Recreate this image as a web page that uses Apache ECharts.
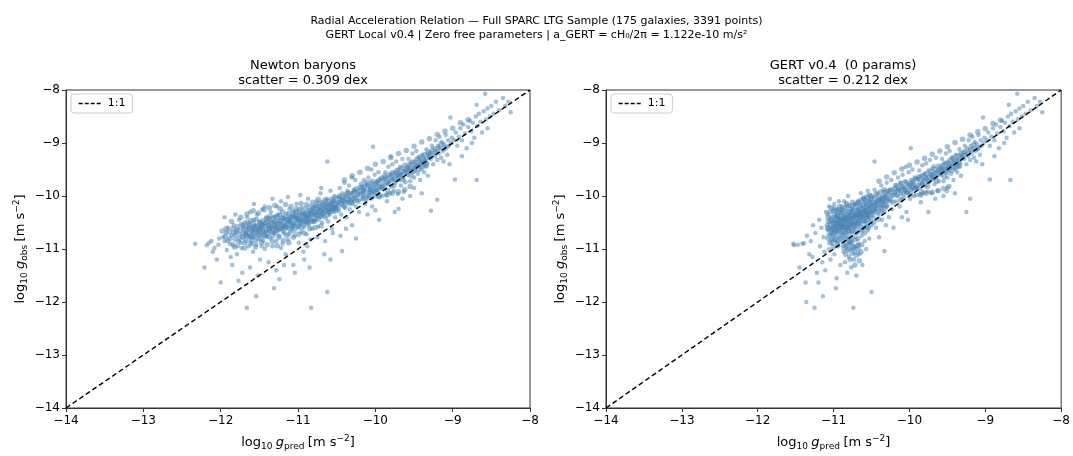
<!DOCTYPE html>
<html><head><meta charset="utf-8">
<script src="https://cdn.jsdelivr.net/npm/echarts@6/dist/echarts.min.js"></script>
<style>html,body{margin:0;padding:0;background:#fff}#c{width:1073px;height:456px}</style>
</head><body><div id="c"></div>
<script>
// Newton baryons panel: [log10 gbar, log10 gobs]
const newtonPts = [
[-12.33,-10.90],[-12.21,-11.35],[-12.18,-10.93],[-12.12,-10.85],[-12.08,-10.98],[-12.05,-11.20],[-12.02,-10.80],[-12.00,-11.63],[-12.03,-10.92],[-12.10,-11.05],[-12.15,-10.88],
[-11.97,-10.78],[-11.95,-10.85],[-11.93,-10.70],[-11.92,-11.02],[-11.90,-10.60],[-11.88,-10.90],[-11.86,-10.75],[-11.85,-11.30],[-11.83,-10.55],[-11.82,-10.82],[-11.80,-10.68],[-11.79,-11.10],[-11.78,-10.95],[-11.76,-10.45],[-11.75,-10.72],[-11.74,-10.88],[-11.72,-11.45],[-11.71,-10.62],[-11.70,-10.80],[-11.95,-10.40],[-11.87,-11.15],[-11.81,-10.35],[-11.77,-11.60],[-11.73,-10.98],
[-11.69,-10.50],[-11.68,-10.70],[-11.67,-10.85],[-11.66,-12.11],[-11.66,-10.40],[-11.65,-10.62],[-11.64,-10.95],[-11.63,-10.75],[-11.62,-10.30],[-11.61,-10.58],[-11.60,-10.88],[-11.59,-10.68],[-11.58,-11.05],[-11.57,-10.45],[-11.56,-10.78],[-11.55,-10.55],[-11.54,-11.89],[-11.54,-10.92],[-11.53,-10.35],[-11.52,-10.65],[-11.51,-10.82],[-11.50,-10.48],[-11.49,-11.20],[-11.48,-10.72],[-11.47,-10.60],[-11.46,-10.25],[-11.45,-10.85],[-11.44,-10.52],[-11.43,-11.00],[-11.42,-10.68],[-11.41,-10.40],[-11.40,-10.77],[-11.62,-11.35],[-11.57,-10.15],[-11.52,-11.50],[-11.47,-10.95],[-11.43,-10.20],[-11.58,-10.62],[-11.50,-10.58],[-11.45,-10.66],
[-11.39,-10.55],[-11.38,-10.65],[-11.37,-10.42],[-11.36,-10.80],[-11.35,-10.30],[-11.34,-10.60],[-11.33,-10.95],[-11.32,-10.50],[-11.31,-11.74],[-11.31,-10.70],[-11.30,-10.38],[-11.29,-10.58],[-11.28,-10.85],[-11.27,-10.20],[-11.26,-10.66],[-11.25,-10.45],[-11.24,-11.57],[-11.24,-10.75],[-11.23,-10.52],[-11.22,-10.10],[-11.21,-10.62],[-11.20,-10.90],[-11.19,-10.40],[-11.18,-10.70],[-11.17,-10.55],[-11.16,-11.10],[-11.15,-10.33],[-11.14,-10.60],[-11.13,-10.82],[-11.12,-10.48],[-11.11,-10.25],[-11.10,-10.68],[-11.38,-11.25],[-11.33,-10.05],[-11.28,-11.40],[-11.22,-10.98],[-11.18,-11.30],[-11.13,-10.02],[-11.36,-10.48],[-11.30,-10.62],[-11.26,-10.35],[-11.20,-10.56],[-11.16,-10.44],[-11.12,-10.72],
[-11.09,-10.50],[-11.08,-10.38],[-11.07,-10.62],[-11.06,-11.30],[-11.06,-10.28],[-11.05,-10.55],[-11.04,-10.75],[-11.03,-10.42],[-11.02,-10.15],[-11.01,-10.60],[-11.00,-10.48],[-10.99,-10.88],[-10.98,-10.35],[-10.97,-10.52],[-10.96,-10.68],[-10.95,-10.22],[-10.94,-10.45],[-10.93,-11.05],[-10.92,-10.58],[-10.91,-10.32],[-10.90,-10.50],[-10.89,-10.72],[-10.88,-10.40],[-10.87,-10.05],[-10.86,-10.55],[-10.85,-10.30],[-10.84,-10.82],[-10.83,-12.11],[-10.83,-10.45],[-10.82,-10.62],[-10.81,-10.25],[-10.80,-10.48],[-11.04,-11.45],[-10.97,-9.98],[-10.92,-11.20],[-10.88,-10.95],[-10.85,-11.35],[-11.05,-10.40],[-10.98,-10.56],[-10.90,-10.38],[-10.86,-10.46],
[-10.79,-10.35],[-10.78,-10.20],[-10.77,-10.45],[-10.76,-10.10],[-10.75,-10.30],[-10.74,-10.58],[-10.73,-10.25],[-10.72,-10.40],[-10.71,-9.95],[-10.70,-10.32],[-10.69,-10.50],[-10.68,-10.15],[-10.67,-10.38],[-10.66,-11.10],[-10.65,-10.22],[-10.64,-10.42],[-10.63,-10.05],[-10.62,-9.35],[-10.62,-11.81],[-10.62,-10.28],[-10.61,-10.48],[-10.60,-10.18],[-10.59,-10.35],[-10.58,-9.90],[-10.57,-10.25],[-10.56,-10.62],[-10.55,-10.12],[-10.54,-10.30],[-10.53,-10.00],[-10.52,-10.40],[-10.51,-10.20],[-10.75,-10.78],[-10.70,-9.85],[-10.65,-10.85],[-10.58,-11.20],[-10.55,-10.70],[-10.68,-10.28],[-10.60,-10.26],[-10.52,-10.22],
[-10.49,-10.15],[-10.48,-10.02],[-10.47,-10.28],[-10.46,-9.85],[-10.45,-10.10],[-10.44,-10.35],[-10.43,-11.04],[-10.43,-9.95],[-10.42,-10.18],[-10.41,-10.05],[-10.40,-9.75],[-10.39,-10.22],[-10.38,-10.00],[-10.37,-10.40],[-10.36,-9.90],[-10.35,-10.12],[-10.34,-9.80],[-10.33,-10.25],[-10.32,-10.08],[-10.31,-9.95],[-10.30,-10.55],[-10.29,-10.15],[-10.28,-9.88],[-10.27,-10.02],[-10.26,-9.70],[-10.25,-10.20],[-10.24,-9.92],[-10.23,-10.08],[-10.22,-9.98],[-10.21,-10.30],[-10.45,-10.75],[-10.38,-10.62],[-10.30,-9.65],[-10.25,-10.80],[-10.46,-10.05],[-10.40,-10.12],[-10.34,-10.03],[-10.27,-10.10],
[-10.19,-9.95],[-10.18,-10.05],[-10.17,-9.82],[-10.16,-10.00],[-10.15,-9.70],[-10.14,-9.90],[-10.13,-10.15],[-10.12,-9.78],[-10.11,-9.98],[-10.10,-10.02],[-10.09,-9.65],[-10.08,-9.88],[-10.07,-10.00],[-10.06,-9.75],[-10.05,-9.93],[-10.04,-10.20],[-10.03,-9.07],[-10.03,-9.80],[-10.02,-9.96],[-10.01,-9.60],[-10.00,-9.85],[-10.00,-10.27],[-9.99,-10.01],[-9.98,-9.72],[-9.97,-9.90],[-9.96,-9.55],[-9.95,-9.82],[-9.94,-10.00],[-9.93,-9.68],[-9.92,-9.86],[-9.91,-9.99],[-10.10,-10.35],[-9.95,-10.45],[-10.05,-9.50],[-10.15,-9.92],[-10.08,-9.94],[-9.98,-9.88],
[-9.89,-9.70],[-9.88,-9.85],[-9.87,-9.55],[-9.86,-9.98],[-9.85,-9.65],[-9.84,-9.78],[-9.83,-9.45],[-9.82,-9.72],[-9.81,-9.95],[-9.80,-9.60],[-9.79,-9.82],[-9.78,-9.40],[-9.77,-9.68],[-9.76,-9.90],[-9.75,-9.55],[-9.74,-9.75],[-9.73,-9.35],[-9.72,-9.62],[-9.71,-9.96],[-9.70,-9.50],[-9.70,-10.24],[-9.69,-9.70],[-9.68,-9.45],[-9.67,-9.80],[-9.66,-9.58],[-9.65,-9.30],[-9.64,-9.66],[-9.63,-9.92],[-9.62,-9.52],[-9.61,-9.74],[-9.85,-10.10],[-9.75,-10.30],[-9.65,-10.05],[-9.80,-9.25],
[-9.59,-9.45],[-9.58,-9.60],[-9.57,-9.30],[-9.56,-9.50],[-9.55,-9.72],[-9.54,-9.38],[-9.53,-9.55],[-9.52,-9.20],[-9.51,-9.48],[-9.50,-9.65],[-9.49,-9.35],[-9.48,-9.52],[-9.47,-9.15],[-9.46,-9.42],[-9.45,-9.58],[-9.44,-9.28],[-9.43,-9.45],[-9.42,-9.70],[-9.41,-9.35],[-9.40,-9.50],[-9.39,-9.22],[-9.38,-9.40],[-9.37,-9.55],[-9.36,-9.30],[-9.35,-9.45],[-9.34,-9.12],[-9.33,-9.38],[-9.32,-9.62],[-9.31,-9.28],[-9.50,-9.85],[-9.40,-9.95],[-9.55,-10.00],
[-9.29,-9.18],[-9.28,-10.28],[-9.28,-9.30],[-9.27,-9.05],[-9.26,-9.22],[-9.25,-9.40],[-9.24,-9.10],[-9.23,-9.25],[-9.22,-8.95],[-9.21,-9.15],[-9.20,-10.07],[-9.20,-9.32],[-9.19,-9.05],[-9.18,-9.20],[-9.17,-8.88],[-9.16,-9.10],[-9.15,-9.28],[-9.14,-8.98],[-9.13,-9.15],[-9.12,-9.35],[-9.11,-9.02],[-9.10,-9.12],[-9.09,-8.85],[-9.08,-9.08],[-9.07,-9.22],[-9.06,-8.95],[-9.05,-9.05],[-9.04,-9.40],[-9.03,-8.52],[-9.02,-9.00],[-9.01,-8.90],
[-8.98,-8.95],[-8.97,-9.69],[-8.96,-8.80],[-8.94,-9.05],[-8.92,-8.88],[-8.90,-8.72],[-8.88,-8.95],[-8.86,-8.65],[-8.84,-8.82],[-8.82,-9.10],[-8.80,-8.70],[-8.78,-8.58],[-8.76,-8.78],[-8.74,-8.62],[-8.72,-8.90],[-8.70,-8.50],[-8.69,-8.28],[-8.69,-9.70],[-8.68,-8.68],[-8.66,-8.45],[-8.64,-8.60],[-8.62,-8.80],[-8.60,-8.40],[-8.58,-8.07],[-8.57,-8.55],[-8.55,-8.35],[-8.52,-8.50],[-8.50,-8.30],[-8.47,-8.45],[-8.44,-8.22],[-8.40,-8.38],[-8.35,-8.15],[-8.32,-8.30],[-8.28,-8.22],[-8.25,-8.42],[-8.88,-9.25],[-8.75,-9.00],[-8.55,-8.72]
];
// Newton panel: dense core and band/track points
const newtonDense = [
[-11.98,-10.66],[-11.94,-10.76],[-11.91,-10.84],[-11.89,-10.68],[-11.84,-10.62],[-11.84,-10.92],[-11.81,-10.74],[-11.78,-10.58],[-11.77,-10.86],[-11.75,-10.65],[-11.73,-10.54],[-11.72,-10.77],[-11.70,-10.70],[-11.69,-10.88],[-11.68,-10.58],[-11.67,-10.66],[-11.66,-10.76],[-11.65,-10.50],[-11.64,-10.70],[-11.63,-10.60],[-11.62,-10.82],[-11.61,-10.46],[-11.60,-10.66],[-11.59,-10.76],[-11.58,-10.52],[-11.57,-10.70],[-11.56,-10.62],[-11.55,-10.84],[-11.54,-10.44],[-11.53,-10.66],[-11.52,-10.56],[-11.51,-10.74],[-11.50,-10.64],[-11.49,-10.50],[-11.48,-10.80],[-11.47,-10.54],[-11.46,-10.68],[-11.45,-10.46],[-11.44,-10.74],[-11.43,-10.58],[-11.42,-10.50],[-11.41,-10.64],[-11.40,-10.42],[-11.39,-10.72],[-11.38,-10.56],[-11.37,-10.62],[-11.36,-10.38],[-11.35,-10.68],[-11.34,-10.50],[-11.33,-10.76],[-11.32,-10.42],[-11.31,-10.56],[-11.30,-10.48],[-11.29,-10.70],[-11.28,-10.40],[-11.27,-10.60],[-11.26,-10.52],[-11.25,-10.78],[-11.24,-10.36],[-11.23,-10.62],[-11.22,-10.46],[-11.21,-10.54],[-11.20,-10.30],[-11.19,-10.66],[-11.18,-10.48],[-11.17,-10.40],[-11.16,-10.60],[-11.15,-10.74],[-11.14,-10.44],[-11.13,-10.54],[-11.12,-10.34],[-11.11,-10.62],[-11.10,-10.46],[-11.09,-10.40],[-11.08,-10.58],[-11.07,-10.32],[-11.06,-10.50],[-11.05,-10.66],[-11.04,-10.38],[-11.03,-10.52],[-11.02,-10.44],[-11.01,-10.30],[-11.00,-10.58],[-10.99,-10.42],[-10.98,-10.26],[-10.97,-10.46],[-10.96,-10.36],[-10.95,-10.60],[-10.94,-10.30],[-10.93,-10.44],[-10.92,-10.38],[-10.91,-10.52],[-10.90,-10.24],[-10.89,-10.42],[-10.88,-10.34],[-10.87,-10.50],[-10.86,-10.28],[-10.85,-10.40],[-10.84,-10.20],[-10.83,-10.36],[-10.82,-10.48],[-10.81,-10.32],[-10.80,-10.22],[-10.79,-10.42],[-10.78,-10.30],[-10.77,-10.18],[-10.76,-10.36],[-10.75,-10.26],[-10.74,-10.44],[-10.73,-10.14],[-10.72,-10.30],[-10.71,-10.22],[-10.70,-10.38],[-10.69,-10.12],[-10.68,-10.24],[-10.67,-10.32],[-10.66,-10.18],[-10.65,-10.08],[-10.64,-10.28],[-10.63,-10.20],[-10.62,-10.36],[-10.61,-10.10],[-10.60,-10.24],[-10.59,-10.16],[-10.58,-10.30],[-10.57,-10.06],[-10.56,-10.20],[-10.55,-10.26],[-10.54,-10.14],[-10.53,-10.22],[-10.52,-10.04],[-10.51,-10.28],[-10.50,-10.12],[-10.48,-10.20],[-10.46,-10.00],[-10.44,-10.14],[-10.42,-10.08],[-10.40,-10.20],[-10.38,-9.96],[-10.36,-10.06],[-10.34,-10.14],[-10.32,-9.98],[-10.30,-10.06],
[-10.28,-9.94],[-10.26,-10.04],[-10.24,-9.86],[-10.22,-10.10],[-10.20,-9.90],[-10.18,-9.78],[-10.16,-9.96],[-10.14,-9.84],[-10.12,-10.06],[-10.10,-9.80],[-10.08,-9.92],[-10.06,-9.86],[-10.04,-9.72],[-10.02,-9.88],[-10.00,-9.78],[-9.98,-9.94],[-9.96,-9.74],[-9.94,-9.84],[-9.92,-9.66],[-9.90,-9.78],[-9.88,-9.62],[-9.86,-9.74],[-9.84,-9.90],[-9.82,-9.60],[-9.80,-9.70],[-9.78,-9.56],[-9.76,-9.80],[-9.74,-9.62],[-9.72,-9.52],[-9.70,-9.66],[-9.68,-9.58],[-9.66,-9.48],[-9.64,-9.70],[-9.62,-9.42],[-9.60,-9.56],[-9.58,-9.48],[-9.56,-9.40],[-9.54,-9.62],[-9.52,-9.36],[-9.50,-9.46],[-9.48,-9.40],[-9.46,-9.30],[-9.44,-9.50],[-9.42,-9.26],[-9.40,-9.38],[-9.38,-9.30],[-9.36,-9.22],[-9.34,-9.42],[-9.32,-9.18],[-9.30,-9.26],
[-10.15,-10.05],[-10.05,-10.04],[-9.95,-10.02],[-9.85,-9.98],[-9.78,-9.95],[-9.70,-9.92],[-9.62,-9.88],[-9.55,-9.82],
[-10.40,-9.70],[-10.30,-9.62],[-10.20,-9.55],[-10.10,-9.48],[-10.00,-9.40],[-9.90,-9.35],[-9.80,-9.28],[-9.70,-9.20],[-9.60,-9.14],[-9.50,-9.06],[-9.40,-8.98],[-9.30,-8.92],[-9.20,-8.84],[-9.10,-8.78],[-9.00,-8.72],[-8.90,-8.62],[-8.80,-8.56]
];
const newtonFill = [
[-11.93,-10.62],[-11.88,-10.80],[-11.83,-10.70],[-11.79,-10.64],[-11.76,-10.80],[-11.71,-10.56],[-11.67,-10.74],[-11.63,-10.54],[-11.60,-10.78],[-11.56,-10.58],[-11.53,-10.72],[-11.49,-10.62],[-11.46,-10.56],[-11.42,-10.76],[-11.39,-10.48],[-11.35,-10.58],[-11.32,-10.66],[-11.28,-10.52],[-11.25,-10.62],[-11.21,-10.42],[-11.18,-10.58],[-11.14,-10.52],[-11.11,-10.42],[-11.07,-10.56],[-11.03,-10.34],[-11.00,-10.42],[-10.96,-10.50],[-10.93,-10.34],[-10.89,-10.48],[-10.86,-10.36],[-10.82,-10.28],[-10.79,-10.48],[-10.75,-10.36],[-10.72,-10.20],[-10.68,-10.34],[-10.64,-10.14],[-10.61,-10.30],[-10.57,-10.16],[-10.54,-10.08],[-10.50,-10.24],[-10.47,-10.12],[-10.43,-10.02],[-10.39,-10.10],[-10.35,-9.94],[-10.31,-10.12],
[-10.27,-9.90],[-10.23,-9.98],[-10.19,-9.84],[-10.15,-9.88],[-10.11,-9.74],[-10.07,-9.82],[-10.03,-9.92],[-9.99,-9.76],[-9.95,-9.70],[-9.91,-9.82],[-9.87,-9.66],[-9.83,-9.76],[-9.79,-9.64],[-9.75,-9.70],[-9.71,-9.58],[-9.67,-9.62],[-9.63,-9.54],[-9.59,-9.52],[-9.55,-9.46],[-9.51,-9.54],[-9.47,-9.44],[-9.43,-9.36],[-9.39,-9.44],[-9.35,-9.34],[-9.31,-9.22],[-9.27,-9.14],[-9.23,-9.18],[-9.19,-9.10],[-9.15,-9.02],[-9.11,-9.08],
[-11.66,-10.34],[-11.61,-10.90],[-11.58,-10.28],[-11.55,-10.96],[-11.51,-10.32],[-11.47,-10.88],[-11.44,-10.26],[-11.40,-10.92],[-11.37,-10.22],[-11.33,-10.86],[-11.30,-10.18],[-11.27,-10.94],[-11.23,-10.24],[-11.19,-10.84],[-11.16,-10.16],[-11.12,-10.88],[-11.09,-10.20],[-11.06,-10.78],[-11.02,-10.24],[-10.99,-10.72],[-10.96,-10.14],[-10.92,-10.70],[-10.89,-10.16],[-10.85,-10.62],[-10.81,-10.12],[-10.78,-10.60],[-10.74,-10.06],[-10.70,-10.56],[-11.86,-10.48],[-11.82,-10.96],[-11.74,-10.40],[-11.69,-10.98]
];
// GERT v0.4 panel: [log10 gpred, log10 gobs]
const gertPts = [
[-11.52,-10.93],[-11.47,-10.92],[-11.53,-10.90],[-11.41,-10.90],[-11.39,-10.89],[-11.45,-11.35],[-11.36,-12.00],[-11.37,-11.63],[-11.30,-10.85],[-11.28,-11.15],[-11.25,-12.11],[-11.24,-10.70],[-11.22,-11.45],[-11.20,-11.63],[-11.18,-10.95],[-11.16,-10.60],[-11.15,-11.25],[-11.14,-11.89],[-11.13,-10.78],[-11.12,-11.05],[-11.32,-11.10],[-11.35,-10.75],[-11.27,-10.55],[-11.19,-10.45],[-11.11,-11.40],[-11.10,-10.30],
[-11.09,-10.55],[-11.08,-10.80],[-11.08,-10.35],[-11.07,-10.65],[-11.06,-11.00],[-11.06,-10.20],[-11.05,-10.50],[-11.04,-10.72],[-11.04,-11.20],[-11.03,-10.40],[-11.02,-10.60],[-11.02,-10.90],[-11.01,-10.28],[-11.00,-10.75],[-11.00,-10.48],[-10.99,-11.10],[-10.99,-10.15],[-10.98,-10.58],[-10.97,-10.85],[-10.97,-10.38],[-10.96,-10.68],[-10.96,-11.55],[-10.95,-10.25],[-10.95,-10.52],[-10.94,-10.95],[-10.93,-10.62],[-10.93,-10.10],[-10.92,-10.78],[-10.92,-10.42],[-10.91,-11.30],[-10.91,-10.55],[-10.90,-10.70],[-10.90,-10.32],[-10.97,-11.74],[-11.05,-10.05],[-10.94,-10.45],[-11.01,-10.66],[-10.98,-10.40],
[-10.89,-10.60],[-10.89,-10.20],[-10.88,-10.45],[-10.88,-10.85],[-10.87,-10.35],[-10.87,-11.05],[-10.86,-10.55],[-10.86,-10.10],[-10.85,-10.70],[-10.85,-11.25],[-10.84,-10.40],[-10.84,-10.95],[-10.83,-10.28],[-10.83,-10.62],[-10.82,-11.45],[-10.82,-10.50],[-10.81,-10.00],[-10.81,-10.80],[-10.80,-10.38],[-10.80,-11.15],[-10.79,-10.58],[-10.79,-10.18],[-10.78,-10.90],[-10.78,-10.45],[-10.77,-11.35],[-10.77,-10.30],[-10.76,-10.68],[-10.76,-11.00],[-10.75,-10.25],[-10.75,-10.52],[-10.74,-12.11],[-10.74,-10.78],[-10.73,-10.40],[-10.73,-11.20],[-10.72,-10.15],[-10.72,-10.62],[-10.71,-10.95],[-10.71,-10.35],[-10.70,-11.50],[-10.70,-10.50],[-10.85,-10.48],[-10.80,-10.55],[-10.76,-10.42],[-10.88,-10.72],
[-10.69,-10.25],[-10.69,-10.70],[-10.68,-10.10],[-10.68,-10.45],[-10.67,-10.90],[-10.66,-10.32],[-10.66,-11.10],[-10.65,-10.55],[-10.64,-9.95],[-10.64,-10.20],[-10.63,-10.75],[-10.62,-10.40],[-10.62,-11.30],[-10.61,-10.05],[-10.60,-10.60],[-10.60,-10.28],[-10.59,-10.85],[-10.58,-10.15],[-10.58,-10.48],[-10.57,-11.00],[-10.56,-10.35],[-10.55,-9.90],[-10.55,-10.65],[-10.54,-10.22],[-10.53,-10.42],[-10.53,-10.80],[-10.52,-10.08],[-10.51,-10.30],[-10.50,-11.81],[-10.50,-10.55],[-10.65,-10.38],[-10.58,-10.30],
[-10.49,-10.18],[-10.48,-10.02],[-10.47,-10.40],[-10.46,-9.35],[-10.46,-9.88],[-10.45,-10.25],[-10.44,-10.60],[-10.43,-10.10],[-10.42,-9.95],[-10.41,-10.35],[-10.40,-10.78],[-10.39,-10.05],[-10.38,-10.22],[-10.37,-9.80],[-10.36,-10.45],[-10.35,-10.12],[-10.34,-9.92],[-10.33,-11.04],[-10.33,-10.30],[-10.32,-10.00],[-10.31,-10.55],[-10.30,-9.75],[-10.29,-10.18],[-10.28,-10.05],[-10.27,-10.40],[-10.26,-9.88],[-10.25,-10.10],[-10.24,-9.70],[-10.23,-10.25],[-10.22,-9.98],[-10.21,-10.60],[-10.45,-10.15],[-10.38,-10.08],[-10.30,-10.20],
[-10.19,-9.95],[-10.18,-10.10],[-10.17,-9.80],[-10.16,-10.00],[-10.15,-9.65],[-10.14,-9.88],[-10.13,-10.20],[-10.12,-9.75],[-10.11,-9.96],[-10.10,-10.05],[-10.09,-9.60],[-10.08,-9.85],[-10.07,-10.02],[-10.06,-9.72],[-10.05,-9.92],[-10.04,-10.30],[-10.03,-9.78],[-10.02,-9.95],[-10.01,-9.55],[-10.00,-9.83],[-9.99,-10.05],[-9.98,-9.10],[-9.98,-9.70],[-9.97,-9.88],[-9.96,-9.50],[-9.95,-9.80],[-9.94,-10.00],[-9.93,-9.65],[-9.92,-9.85],[-9.91,-9.98],[-10.10,-10.40],[-10.02,-10.45],[-10.05,-9.45],[-10.12,-9.90],[-9.96,-9.86],
[-9.89,-9.68],[-9.88,-9.85],[-9.87,-9.52],[-9.86,-9.97],[-9.85,-9.62],[-9.84,-9.78],[-9.83,-9.42],[-9.82,-9.70],[-9.81,-9.94],[-9.80,-9.58],[-9.79,-9.80],[-9.78,-9.38],[-9.77,-9.66],[-9.76,-9.92],[-9.75,-9.52],[-9.74,-9.74],[-9.73,-9.32],[-9.72,-9.60],[-9.71,-9.95],[-9.70,-9.48],[-9.69,-9.68],[-9.68,-9.44],[-9.67,-9.78],[-9.66,-9.55],[-9.65,-9.28],[-9.64,-9.64],[-9.63,-9.90],[-9.62,-9.50],[-9.61,-9.72],[-9.85,-10.12],[-9.75,-10.30],[-9.66,-10.05],[-9.51,-9.91],
[-9.59,-9.45],[-9.58,-9.60],[-9.57,-9.30],[-9.56,-9.50],[-9.55,-9.72],[-9.54,-9.38],[-9.53,-9.55],[-9.52,-9.20],[-9.51,-9.48],[-9.50,-9.65],[-9.49,-9.35],[-9.48,-9.52],[-9.47,-9.15],[-9.46,-9.42],[-9.45,-9.58],[-9.44,-9.28],[-9.43,-9.45],[-9.42,-9.70],[-9.41,-9.35],[-9.40,-9.50],[-9.39,-9.22],[-9.38,-9.40],[-9.37,-9.55],[-9.36,-9.30],[-9.35,-9.45],[-9.34,-9.12],[-9.33,-9.38],[-9.32,-9.62],[-9.31,-9.28],[-9.50,-9.85],[-9.40,-9.95],[-9.55,-10.00],
[-9.29,-9.18],[-9.25,-10.30],[-9.28,-9.30],[-9.27,-9.05],[-9.26,-9.22],[-9.25,-9.40],[-9.24,-9.10],[-9.23,-9.25],[-9.22,-8.95],[-9.21,-9.15],[-9.20,-10.05],[-9.20,-9.32],[-9.19,-9.05],[-9.18,-9.20],[-9.17,-8.88],[-9.16,-9.10],[-9.15,-9.28],[-9.14,-8.98],[-9.13,-9.15],[-9.12,-9.35],[-9.11,-9.02],[-9.10,-9.12],[-9.09,-8.85],[-9.08,-9.08],[-9.07,-9.22],[-9.06,-8.95],[-9.05,-9.05],[-9.04,-9.40],[-9.03,-8.52],[-9.02,-9.00],[-9.01,-8.90],
[-8.98,-8.95],[-8.94,-9.69],[-8.96,-8.80],[-8.94,-9.05],[-8.92,-8.88],[-8.90,-8.72],[-8.88,-8.95],[-8.86,-8.65],[-8.84,-8.82],[-8.82,-9.10],[-8.80,-8.70],[-8.78,-8.58],[-8.76,-8.78],[-8.74,-8.62],[-8.72,-8.90],[-8.70,-8.50],[-8.69,-8.28],[-8.67,-9.70],[-8.68,-8.68],[-8.66,-8.45],[-8.64,-8.60],[-8.62,-8.80],[-8.60,-8.40],[-8.58,-8.07],[-8.57,-8.55],[-8.55,-8.35],[-8.52,-8.50],[-8.50,-8.30],[-8.47,-8.45],[-8.44,-8.22],[-8.40,-8.38],[-8.35,-8.15],[-8.32,-8.30],[-8.28,-8.22],[-8.25,-8.42],[-8.88,-9.25],[-8.75,-9.00],[-8.55,-8.72]
];
// GERT panel: dense core and band/track points
const gertDense = [
[-11.08,-10.62],[-11.07,-10.48],[-11.06,-10.74],[-11.05,-10.30],[-11.05,-10.88],[-11.04,-10.56],[-11.03,-10.64],[-11.03,-10.22],[-11.02,-10.80],[-11.01,-10.46],[-11.00,-10.58],[-11.00,-10.96],[-10.99,-10.34],[-10.99,-10.70],[-10.98,-10.50],[-10.98,-10.82],[-10.97,-10.28],[-10.97,-10.60],[-10.96,-10.44],[-10.96,-10.76],[-10.95,-10.36],[-10.95,-10.66],[-10.94,-10.54],[-10.94,-10.86],[-10.93,-10.30],[-10.93,-10.50],[-10.92,-10.68],[-10.92,-10.20],[-10.91,-10.46],[-10.91,-10.80],[-10.90,-10.58],[-10.90,-10.40],[-10.89,-10.30],[-10.89,-10.52],[-10.88,-10.64],[-10.88,-10.26],[-10.87,-10.44],[-10.87,-10.76],[-10.86,-10.38],[-10.86,-10.62],[-10.85,-10.22],[-10.85,-10.54],[-10.84,-10.46],[-10.84,-10.70],[-10.83,-10.34],[-10.83,-10.88],[-10.82,-10.58],[-10.82,-10.18],[-10.81,-10.42],[-10.81,-10.66],[-10.80,-10.30],[-10.80,-10.48],[-10.79,-10.74],[-10.79,-10.36],[-10.78,-10.24],[-10.78,-10.60],[-10.77,-10.44],[-10.77,-10.84],[-10.76,-10.32],[-10.76,-10.54],[-10.75,-10.12],[-10.75,-10.66],[-10.74,-10.40],[-10.74,-10.28],[-10.73,-10.58],[-10.73,-10.96],[-10.72,-10.36],[-10.72,-10.48],[-10.71,-10.20],[-10.71,-10.70],[-10.70,-10.42],[-10.70,-10.30],[-10.69,-10.56],[-10.69,-10.14],[-10.68,-10.36],[-10.68,-10.80],[-10.67,-10.26],[-10.67,-10.48],[-10.66,-10.40],[-10.66,-10.64],[-10.65,-10.18],[-10.65,-10.30],[-10.64,-10.50],[-10.64,-10.08],[-10.63,-10.34],[-10.63,-10.92],[-10.62,-10.24],[-10.62,-10.46],[-10.61,-10.16],[-10.61,-10.60],[-10.60,-10.36],[-10.60,-10.04],[-10.59,-10.26],[-10.59,-10.70],[-10.58,-10.40],[-10.58,-10.12],[-10.57,-10.30],[-10.57,-10.52],[-10.56,-10.20],[-10.56,-10.02],[-10.55,-10.34],[-10.55,-10.44],[-10.54,-10.10],[-10.54,-10.60],[-10.53,-10.26],[-10.53,-9.98],[-10.52,-10.36],[-10.52,-10.18],[-10.51,-10.48],[-10.51,-10.06],[-10.50,-10.28],[-10.50,-10.20],[-10.48,-10.12],[-10.47,-10.30],[-10.46,-10.04],[-10.45,-10.20],[-10.44,-9.96],[-10.43,-10.24],[-10.42,-10.10],[-10.41,-10.44],[-10.40,-10.02],[-10.39,-10.16],[-10.38,-9.92],[-10.37,-10.26],[-10.36,-10.06],[-10.35,-10.00],[-10.34,-10.18],[-10.33,-9.88],[-10.32,-10.10],[-10.31,-10.02],[-10.30,-9.92],
[-10.86,-10.98],[-10.84,-11.10],[-10.82,-11.02],[-10.80,-10.92],[-10.78,-11.20],[-10.76,-11.08],[-10.74,-10.98],[-10.72,-11.30],[-10.70,-11.12],[-10.68,-11.00],[-10.66,-11.22],[-10.64,-11.05],
[-10.28,-9.96],[-10.26,-10.06],[-10.24,-9.88],[-10.22,-10.12],[-10.20,-9.92],[-10.18,-9.80],[-10.16,-9.98],[-10.14,-9.86],[-10.12,-10.08],[-10.10,-9.82],[-10.08,-9.94],[-10.06,-9.88],[-10.04,-9.74],[-10.02,-9.90],[-10.00,-9.80],[-9.98,-9.96],[-9.96,-9.76],[-9.94,-9.86],[-9.92,-9.68],[-9.90,-9.80],[-9.88,-9.64],[-9.86,-9.76],[-9.84,-9.92],[-9.82,-9.62],[-9.80,-9.72],[-9.78,-9.58],[-9.76,-9.82],[-9.74,-9.64],[-9.72,-9.54],[-9.70,-9.68],[-9.68,-9.60],[-9.66,-9.50],[-9.64,-9.72],[-9.62,-9.44],[-9.60,-9.58],[-9.58,-9.50],[-9.56,-9.42],[-9.54,-9.64],[-9.52,-9.38],[-9.50,-9.48],[-9.48,-9.42],[-9.46,-9.32],[-9.44,-9.52],[-9.42,-9.28],[-9.40,-9.40],[-9.38,-9.32],[-9.36,-9.24],[-9.34,-9.44],[-9.32,-9.20],[-9.30,-9.28],
[-9.85,-9.98],[-9.78,-9.95],[-9.70,-9.93],[-9.62,-9.90],[-9.55,-9.86],[-9.48,-9.82],
[-10.40,-9.72],[-10.30,-9.64],[-10.20,-9.56],[-10.10,-9.49],[-10.00,-9.42],[-9.90,-9.36],[-9.80,-9.29],[-9.70,-9.21],[-9.60,-9.15],[-9.50,-9.07],[-9.40,-8.99],[-9.30,-8.93],[-9.20,-8.85],[-9.10,-8.79],[-9.00,-8.73],[-8.90,-8.63],[-8.80,-8.57]
];
const gertFill = [
[-11.06,-10.60],[-11.04,-10.44],[-11.02,-10.70],[-11.00,-10.52],[-10.98,-10.64],[-10.96,-10.56],[-10.94,-10.38],[-10.92,-10.60],[-10.90,-10.48],[-10.88,-10.56],[-10.86,-10.44],[-10.84,-10.60],[-10.82,-10.40],[-10.80,-10.64],[-10.78,-10.52],[-10.76,-10.38],[-10.74,-10.50],[-10.72,-10.56],[-10.70,-10.36],[-10.68,-10.52],[-10.66,-10.28],[-10.64,-10.40],[-10.62,-10.32],[-10.60,-10.46],[-10.58,-10.22],[-10.56,-10.38],[-10.54,-10.30],[-10.52,-10.14],[-10.50,-10.36],[-10.48,-10.26],[-10.46,-10.14],[-10.44,-10.30],[-10.42,-10.18],[-10.40,-10.08],[-10.38,-10.30],[-10.36,-10.16],[-10.34,-10.04],[-10.32,-10.22],[-10.30,-10.10],
[-10.27,-9.92],[-10.23,-10.00],[-10.19,-9.86],[-10.15,-9.90],[-10.11,-9.76],[-10.07,-9.84],[-10.03,-9.94],[-9.99,-9.78],[-9.95,-9.72],[-9.91,-9.84],[-9.87,-9.68],[-9.83,-9.78],[-9.79,-9.66],[-9.75,-9.72],[-9.71,-9.60],[-9.67,-9.64],[-9.63,-9.56],[-9.59,-9.54],[-9.55,-9.48],[-9.51,-9.56],[-9.47,-9.46],[-9.43,-9.38],[-9.39,-9.46],[-9.35,-9.36],[-9.31,-9.24],[-9.27,-9.16],[-9.23,-9.20],[-9.19,-9.12],[-9.15,-9.04],[-9.11,-9.10],
[-10.84,-10.80],[-10.80,-11.00],[-10.76,-10.88],[-10.72,-11.06],[-10.68,-10.94],
[-11.07,-10.40],[-11.03,-10.84],[-10.99,-10.24],[-10.95,-10.90],[-10.91,-10.26],[-10.87,-10.92],[-10.83,-10.14],[-10.79,-10.84],[-10.75,-10.18],[-10.71,-10.82],[-10.67,-10.12],[-10.63,-10.66],[-10.59,-10.06],[-10.55,-10.58],[-10.51,-10.00],[-10.47,-10.50]
];
const oneToOne = [[-14,-14],[-8,-8]];
const axisRange = [-14, -8];
const panelTitles = ['Newton baryons\nscatter = 0.309 dex', 'GERT v0.4  (0 params)\nscatter = 0.212 dex'];
const mainTitle = 'Radial Acceleration Relation — Full SPARC LTG Sample (175 galaxies, 3391 points)\nGERT Local v0.4 | Zero free parameters | a_GERT = cH₀/2π = 1.122e-10 m/s²';

const FONT = 'DejaVu Sans';
const fmt = v => (v < 0 ? '\u2212' : '') + Math.abs(v);
const rich = {
  a: {fontFamily: FONT, fontSize: 13, color: '#000'},
  s: {fontFamily: FONT, fontSize: 9, color: '#000', padding: [8, 0, 0, 0]},
  i: {fontFamily: FONT, fontSize: 13, fontStyle: 'italic', color: '#000'},
  p: {fontFamily: FONT, fontSize: 9, color: '#000', padding: [0, 0, 8, 0]}
};
function xAx(i, nameTxt) {
  return {type: 'value', gridIndex: i, min: axisRange[0], max: axisRange[1], interval: 1,
    name: nameTxt, nameLocation: 'middle', nameGap: 26, nameTextStyle: {rich},
    axisLine: {onZero: false, lineStyle: {color: '#333', width: 1}},
    axisTick: {length: 4, lineStyle: {color: '#333'}},
    axisLabel: {formatter: fmt, fontFamily: FONT, fontSize: 12, color: '#000', margin: 7},
    splitLine: {show: false}};
}
function yAx(i, nameTxt) {
  return {type: 'value', gridIndex: i, min: axisRange[0], max: axisRange[1], interval: 1,
    name: nameTxt, nameLocation: 'middle', nameGap: 37, nameRotate: 90, nameTextStyle: {rich},
    axisLine: {onZero: false, lineStyle: {color: '#333', width: 1}},
    axisTick: {length: 4, lineStyle: {color: '#333'}},
    axisLabel: {formatter: fmt, fontFamily: FONT, fontSize: 12, color: '#000', margin: 6},
    splitLine: {show: false}};
}
const xName = '{a|log}{s|10} {i|g}{s|pred} {a|[m s}{p|\u22122}{a|]}';
const yName = '{a|log}{s|10} {i|g}{s|obs} {a|[m s}{p|\u22122}{a|]}';
const scatterStyle = {color: '#4682b4', opacity: 0.5};
const legendBase = {data: ['1:1'], itemWidth: 24, itemHeight: 10, itemGap: 6, padding: [4, 7], borderColor: '#ccc', borderWidth: 1, borderRadius: 3, backgroundColor: '#fff',
  itemStyle: {opacity: 0}, lineStyle: {color: '#000', type: [4, 2], width: 1.4},
  textStyle: {fontFamily: FONT, fontSize: 11, color: '#000'}};
const chart = echarts.init(document.getElementById('c'), null, {renderer: 'canvas'});
chart.setOption({
  animation: false,
  backgroundColor: '#fff',
  title: [
    {text: mainTitle, left: 'center', top: 9, textStyle: {fontFamily: FONT, fontSize: 11, fontWeight: 'normal', color: '#000', lineHeight: 14}},
    {text: panelTitles[0], left: 298, textAlign: 'center', top: 53, textStyle: {fontFamily: FONT, fontSize: 13, fontWeight: 'normal', color: '#000', lineHeight: 15}},
    {text: panelTitles[1], left: 838, textAlign: 'center', top: 53, textStyle: {fontFamily: FONT, fontSize: 13, fontWeight: 'normal', color: '#000', lineHeight: 15}}
  ],
  legend: [
    Object.assign({left: 71, top: 94}, legendBase),
    Object.assign({left: 611, top: 94}, legendBase)
  ],
  grid: [
    {left: 66, top: 90, width: 464, height: 324, show: true, borderColor: '#333', borderWidth: 1},
    {left: 606, top: 90, width: 464, height: 324, show: true, borderColor: '#333', borderWidth: 1}
  ],
  xAxis: [xAx(0, xName), xAx(1, xName)],
  yAxis: [yAx(0, yName), yAx(1, yName)],
  series: [
    {type: 'scatter', name: 'Newton', xAxisIndex: 0, yAxisIndex: 0, data: newtonPts, symbolSize: 4.5, itemStyle: scatterStyle, z: 2},
    {type: 'scatter', name: 'Newton core', xAxisIndex: 0, yAxisIndex: 0, data: newtonDense.concat(newtonFill), symbolSize: 5.5, itemStyle: scatterStyle, z: 2},
    {type: 'scatter', name: 'GERT', xAxisIndex: 1, yAxisIndex: 1, data: gertPts, symbolSize: 4.5, itemStyle: scatterStyle, z: 2},
    {type: 'scatter', name: 'GERT core', xAxisIndex: 1, yAxisIndex: 1, data: gertDense.concat(gertFill), symbolSize: 5.5, itemStyle: scatterStyle, z: 2},
    {type: 'line', name: '1:1', xAxisIndex: 0, yAxisIndex: 0, data: oneToOne, symbol: 'none', lineStyle: {color: '#000', type: [5, 3], width: 1.4}, itemStyle: {color: '#000'}, z: 5},
    {type: 'line', name: '1:1', xAxisIndex: 1, yAxisIndex: 1, data: oneToOne, symbol: 'none', lineStyle: {color: '#000', type: [5, 3], width: 1.4}, itemStyle: {color: '#000'}, z: 5}
  ]
});
</script></body></html>
